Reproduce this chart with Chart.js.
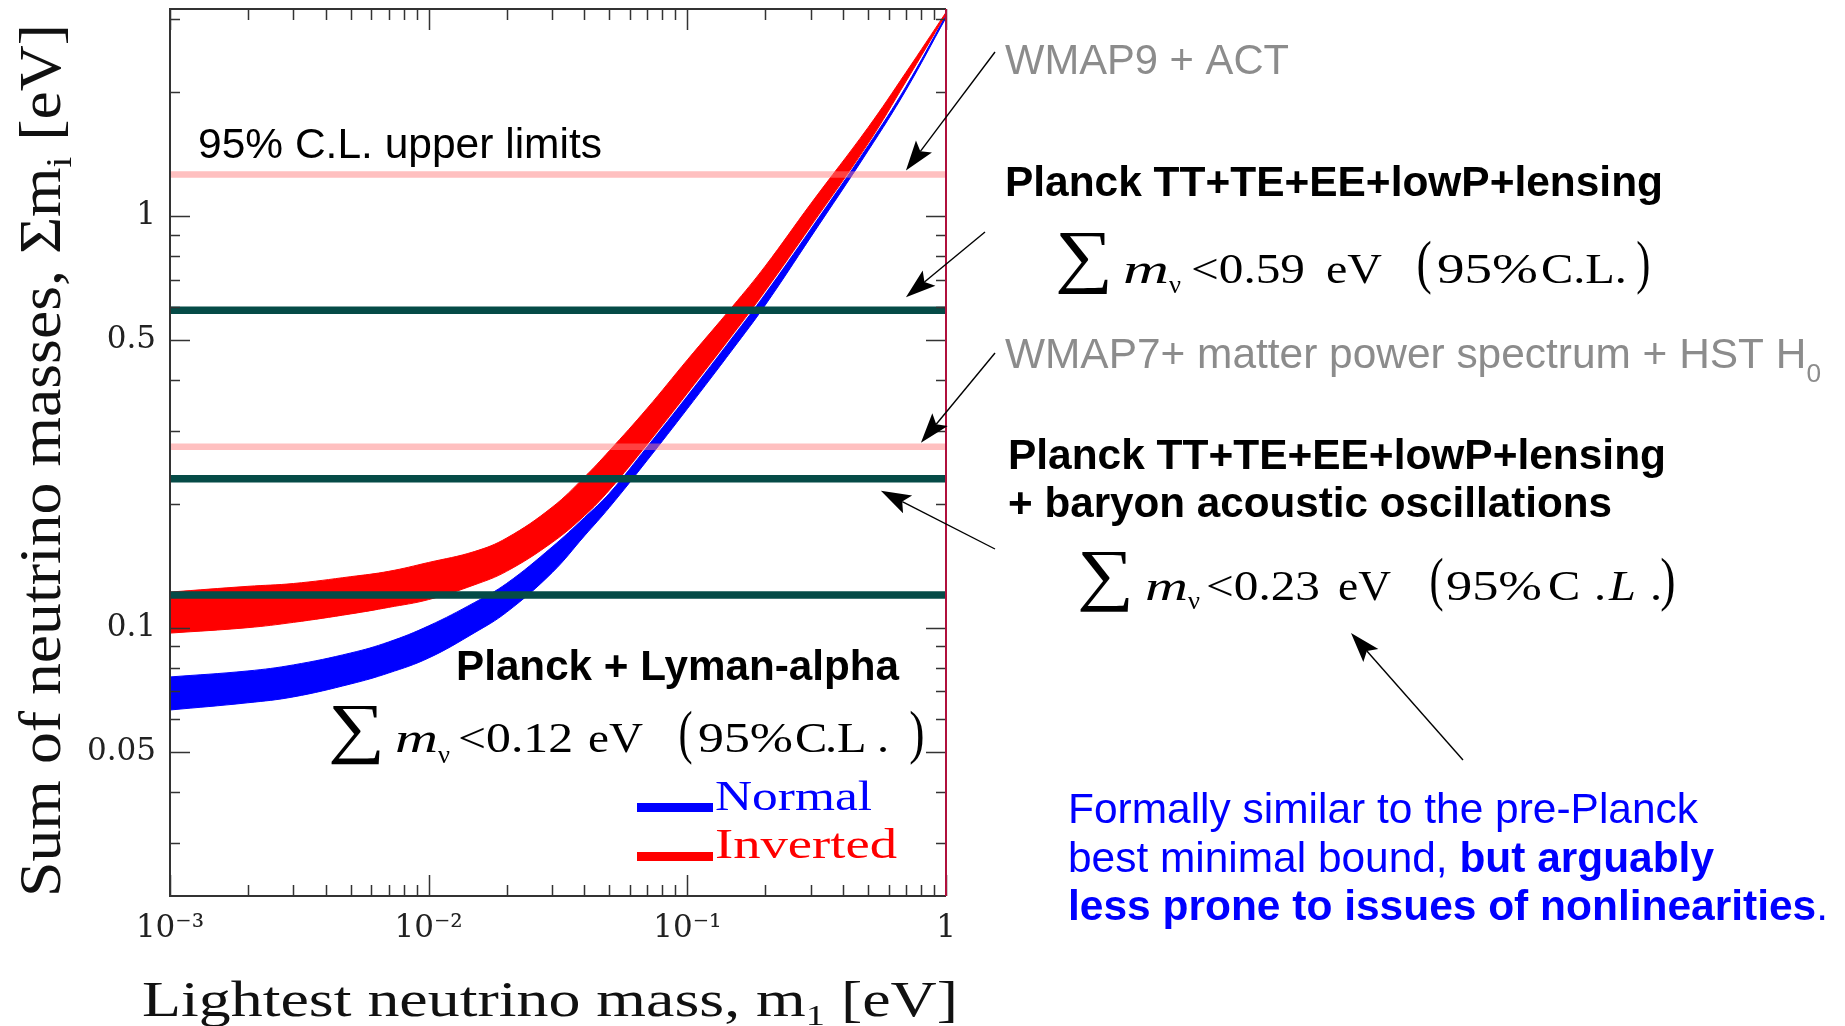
<!DOCTYPE html>
<html>
<head>
<meta charset="utf-8">
<title>Sum of neutrino masses vs lightest neutrino mass</title>
<script src="https://cdn.jsdelivr.net/npm/chart.js@4.4.1/dist/chart.umd.min.js"></script>
<style>
  html, body { margin: 0; padding: 0; background: #fff; }
  #wrap { width: 1845px; height: 1026px; position: relative; }
</style>
</head>
<body>
<div id="wrap"><canvas id="massChart" width="1845" height="1026"></canvas></div>
<script>
// lightest neutrino mass m1 [eV]
var m1 = [0.001, 0.002, 0.003, 0.005, 0.007, 0.01, 0.015, 0.02, 0.03, 0.04, 0.05, 0.07, 0.1, 0.15, 0.2, 0.3, 0.5, 0.7, 1.0];

// allowed band for the sum of masses [eV], inverted and normal ordering
var invertedUpper = [0.122, 0.126, 0.128, 0.133, 0.137, 0.144, 0.153, 0.165, 0.196, 0.232, 0.269, 0.341, 0.447, 0.604, 0.755, 1.07, 1.64, 2.23, 3.12];
var invertedLower = [0.097, 0.100, 0.103, 0.108, 0.112, 0.117, 0.127, 0.137, 0.161, 0.187, 0.216, 0.279, 0.371, 0.516, 0.657, 0.944, 1.50, 2.12, 3.09];
var normalUpper = [0.0759, 0.0785, 0.0812, 0.0868, 0.0923, 0.101, 0.115, 0.128, 0.157, 0.185, 0.212, 0.275, 0.365, 0.508, 0.646, 0.928, 1.48, 2.06, 3.07];
var normalLower = [0.0631, 0.0657, 0.0679, 0.0730, 0.0776, 0.0844, 0.0971, 0.109, 0.136, 0.167, 0.196, 0.255, 0.340, 0.475, 0.607, 0.888, 1.44, 2.02, 3.03];

// 95% C.L. upper limits on the sum [eV]
var limitNames = ['WMAP9 + ACT', 'Planck TT+TE+EE+lowP+lensing', 'WMAP7 + matter power spectrum + HST H0', 'Planck TT+TE+EE+lowP+lensing + BAO', 'Planck + Lyman-alpha'];
var limitValues = [1.26, 0.59, 0.275, 0.23, 0.12];
var limitKinds = ['old', 'planck', 'old', 'planck', 'planck'];

// axis ticks (empty label = minor tick)
var xTickValues = [0.001, 0.002, 0.003, 0.004, 0.005, 0.006, 0.007, 0.008, 0.009,
                   0.01, 0.02, 0.03, 0.04, 0.05, 0.06, 0.07, 0.08, 0.09,
                   0.1, 0.2, 0.3, 0.4, 0.5, 0.6, 0.7, 0.8, 0.9, 1];
var xTickLabels = ['10\u207b\u00b3', '', '', '', '', '', '', '', '',
                   '10\u207b\u00b2', '', '', '', '', '', '', '', '',
                   '10\u207b\u00b9', '', '', '', '', '', '', '', '', '1'];
var yTickValues = [0.03, 0.04, 0.05, 0.06, 0.07, 0.08, 0.09, 0.1, 0.2, 0.3, 0.4, 0.5, 0.6, 0.7, 0.8, 0.9, 1, 2, 3];
var yTickLabels = ['', '', '0.05', '', '', '', '', '0.1', '', '', '', '0.5', '', '', '', '', '1', '', ''];

var SANS = '"Liberation Sans", Arial, sans-serif';
var SERIF = '"Liberation Serif", "Times New Roman", serif';
var GREY = '#8c8c8c';
var BLUE = '#0000ff';

var limitStyle = {
    old: { color: 'rgba(255, 130, 130, 0.5)', width: 6.5 },
    planck: { color: '#054b47', width: 7.5 }
};

function pts(ys) {
    return m1.map(function (m, i) { return { x: m, y: ys[i] }; });
}

var bandLine = { borderWidth: 1, pointRadius: 0, tension: 0.4, clip: 0 };

var datasets = [];
limitValues.forEach(function (v, i) {
    var st = limitStyle[limitKinds[i]];
    datasets.push({
        label: limitNames[i],
        data: [{ x: m1[0], y: v }, { x: m1[m1.length - 1], y: v }],
        borderColor: st.color,
        borderWidth: st.width,
        borderCapStyle: 'butt',
        pointRadius: 0,
        fill: false,
        clip: 0
    });
});
// bands: index 5/6 inverted, 7/8 normal
datasets.push(Object.assign({ label: 'Inverted', data: pts(invertedLower), borderColor: '#ff0000', fill: false }, bandLine));
datasets.push(Object.assign({ label: 'Inverted upper', data: pts(invertedUpper), borderColor: '#ff0000', backgroundColor: '#ff0000', fill: 5 }, bandLine));
datasets.push(Object.assign({ label: 'Normal', data: pts(normalLower), borderColor: '#0000ff', fill: false }, bandLine));
datasets.push(Object.assign({ label: 'Normal upper', data: pts(normalUpper), borderColor: '#0000ff', backgroundColor: '#0000ff', fill: 7 }, bandLine));

// draw text pieces stretched to fit [x0, x1]
function fit(ctx, parts, x0, x1, base) {
    var total = 0;
    parts.forEach(function (p) { ctx.font = p[1]; total += ctx.measureText(p[0]).width; });
    var sx = (x1 - x0) / total, x = x0;
    parts.forEach(function (p) {
        ctx.font = p[1];
        ctx.fillStyle = p[2] || '#000';
        ctx.save();
        ctx.translate(x, base + (p[3] || 0));
        ctx.scale(sx, 1);
        ctx.fillText(p[0], 0, 0);
        ctx.restore();
        x += ctx.measureText(p[0]).width * sx;
    });
}

// draw one glyph scaled into a box
function box(ctx, text, font, x0, x1, top, bottom) {
    ctx.font = font;
    var m = ctx.measureText(text);
    var w = m.actualBoundingBoxLeft + m.actualBoundingBoxRight;
    var h = m.actualBoundingBoxAscent + m.actualBoundingBoxDescent;
    ctx.save();
    ctx.translate(x0, top);
    ctx.scale((x1 - x0) / w, (bottom - top) / h);
    ctx.fillStyle = '#000';
    ctx.fillText(text, m.actualBoundingBoxLeft, m.actualBoundingBoxAscent);
    ctx.restore();
}

function put(ctx, text, font, x, base, sx) {
    ctx.font = font;
    ctx.fillStyle = '#000';
    ctx.save();
    ctx.translate(x, base);
    ctx.scale(sx, 1);
    ctx.fillText(text, 0, 0);
    ctx.restore();
}

function formula(ctx, value, f) {
    var tf = '42px ' + SERIF, it = 'italic 42px ' + SERIF;
    box(ctx, '\u2211', '80px ' + SERIF, f.sig[0], f.sig[1], f.sig[2], f.sig[3]);
    fit(ctx, [['m', it]], f.m[0], f.m[1], f.base);
    fit(ctx, [['\u03bd', '26px ' + SERIF]], f.nu[0], f.nu[1], f.nu[2]);
    fit(ctx, [['<' + value.toFixed(2), tf]], f.val[0], f.val[1], f.base);
    fit(ctx, [['eV', tf]], f.ev[0], f.ev[1], f.base);
    box(ctx, '(', '60px ' + SERIF, f.lp[0], f.lp[1], f.lp[2], f.lp[3]);
    fit(ctx, [['95%', tf]], f.pct[0], f.pct[1], f.base);
    f.cl.forEach(function (c) { put(ctx, c[0], c[2] ? it : tf, c[1], f.base, 1.15); });
    box(ctx, ')', '60px ' + SERIF, f.rp[0], f.rp[1], f.rp[2], f.rp[3]);
}

function arrow(ctx, x0, y0, x1, y1, color) {
    var a = Math.atan2(y1 - y0, x1 - x0), c = Math.cos(a), s = Math.sin(a), L = 30, W = 10;
    ctx.strokeStyle = color;
    ctx.fillStyle = color;
    ctx.lineWidth = 1.4;
    ctx.beginPath();
    ctx.moveTo(x0, y0);
    ctx.lineTo(x1 - L * 0.8 * c, y1 - L * 0.8 * s);
    ctx.stroke();
    ctx.beginPath();
    ctx.moveTo(x1, y1);
    ctx.lineTo(x1 - L * c + W * s, y1 - L * s - W * c);
    ctx.lineTo(x1 - L * 0.8 * c, y1 - L * 0.8 * s);
    ctx.lineTo(x1 - L * c - W * s, y1 - L * s + W * c);
    ctx.closePath();
    ctx.fill();
}

// frame with inward ticks on all four sides
var frameTicks = {
    id: 'frameTicks',
    afterDatasetsDraw: function (chart) {
        var ctx = chart.ctx, a = chart.chartArea, xs = chart.scales.x, ys = chart.scales.y;
        ctx.save();
        ctx.lineWidth = 1.5;
        ctx.strokeStyle = '#333';
        ctx.beginPath();
        xTickValues.forEach(function (v, i) {
            var px = Math.round(xs.getPixelForValue(v)) + 0.5;
            var len = xTickLabels[i] ? 21 : 11;
            ctx.moveTo(px, a.bottom); ctx.lineTo(px, a.bottom - len);
            ctx.moveTo(px, a.top); ctx.lineTo(px, a.top + len);
        });
        yTickValues.forEach(function (v, i) {
            var py = Math.round(ys.getPixelForValue(v)) + 0.5;
            var len = yTickLabels[i] ? 20 : 10;
            ctx.moveTo(a.left, py); ctx.lineTo(a.left + len, py);
            ctx.moveTo(a.right, py); ctx.lineTo(a.right - len, py);
        });
        ctx.stroke();
        ctx.lineWidth = 2;
        ctx.strokeStyle = '#333';
        ctx.beginPath();
        ctx.moveTo(a.right, a.top); ctx.lineTo(a.left, a.top);
        ctx.lineTo(a.left, a.bottom); ctx.lineTo(a.right, a.bottom);
        ctx.stroke();
        ctx.strokeStyle = '#b0103c';
        ctx.beginPath();
        ctx.moveTo(a.right, a.top); ctx.lineTo(a.right, a.bottom);
        ctx.stroke();
        ctx.restore();
    }
};

// labels, arrows, legend and axis titles
var annotations = {
    id: 'annotations',
    afterDraw: function (chart) {
        var ctx = chart.ctx, xs = chart.scales.x, ys = chart.scales.y;
        var ds = chart.data.datasets;
        ctx.save();
        ctx.textBaseline = 'alphabetic';
        ctx.textAlign = 'left';

        fit(ctx, [['95% C.L. upper limits', '42px ' + SANS]], 198, 602, 158);
        fit(ctx, [['WMAP9 + ACT', '42px ' + SANS, GREY]], 1005, 1289, 74);
        fit(ctx, [['Planck TT+TE+EE+lowP+lensing', 'bold 42px ' + SANS]], 1005, 1663, 196);
        fit(ctx, [['WMAP7+ matter power spectrum + HST H', '42px ' + SANS, GREY], ['0', '26px ' + SANS, GREY, 14]], 1005, 1821, 368);
        fit(ctx, [['Planck TT+TE+EE+lowP+lensing', 'bold 42px ' + SANS]], 1008, 1666, 469);
        fit(ctx, [['+ baryon acoustic oscillations', 'bold 42px ' + SANS]], 1008, 1612, 517);
        fit(ctx, [['Planck + Lyman-alpha', 'bold 42px ' + SANS]], 456, 899, 680);

        fit(ctx, [['Formally similar to the pre-Planck', '42px ' + SANS, BLUE]], 1068, 1698, 823);
        fit(ctx, [['best minimal bound, ', '42px ' + SANS, BLUE], ['but arguably', 'bold 42px ' + SANS, BLUE]], 1068, 1714, 872);
        fit(ctx, [['less prone to issues of nonlinearities', 'bold 42px ' + SANS, BLUE], ['.', '42px ' + SANS, BLUE]], 1068, 1828, 920);

        formula(ctx, limitValues[1], {
            base: 283, sig: [1058, 1108, 233, 295], m: [1123, 1169], nu: [1169, 1181, 293],
            val: [1191, 1305], ev: [1326, 1382], lp: [1418, 1431, 240, 295], pct: [1437, 1538],
            cl: [['C.L.', 1541, false]], rp: [1637, 1649, 240, 295]
        });
        formula(ctx, limitValues[3], {
            base: 600, sig: [1080, 1129, 551, 612], m: [1145, 1188], nu: [1188, 1200, 609],
            val: [1206, 1320], ev: [1338, 1391], lp: [1431, 1443, 558, 612], pct: [1446, 1542],
            cl: [['C', 1548, false], ['.', 1594, false], ['L', 1609, true], ['.', 1650, false]], rp: [1661, 1674, 558, 612]
        });
        formula(ctx, limitValues[4], {
            base: 752, sig: [331, 380, 705, 765], m: [395, 438], nu: [438, 450, 763],
            val: [458, 573], ev: [588, 643], lp: [680, 692, 710, 765], pct: [698, 793],
            cl: [['C', 795, false], ['.', 825, false], ['L', 837, false], ['.', 877, false]], rp: [910, 923, 710, 765]
        });

        // arrows pointing at the limit lines
        arrow(ctx, 995, 52, xs.getPixelForValue(0.7), ys.getPixelForValue(limitValues[0]) - 4, '#000');
        arrow(ctx, 985, 232, xs.getPixelForValue(0.7), ys.getPixelForValue(limitValues[1]) - 13, '#000');
        arrow(ctx, 995, 353, xs.getPixelForValue(0.8), ys.getPixelForValue(limitValues[2]) - 4, '#000');
        arrow(ctx, 995, 549, xs.getPixelForValue(0.56), ys.getPixelForValue(limitValues[3]) + 12, '#000');
        arrow(ctx, 1463, 760, 1351, 633, '#000');

        // legend
        ctx.fillStyle = ds[7].borderColor;
        ctx.fillRect(637, 803, 76, 9);
        fit(ctx, [['Normal', '42px ' + SERIF, ds[7].borderColor]], 715, 872, 810);
        ctx.fillStyle = ds[5].borderColor;
        ctx.fillRect(637, 852, 76, 9);
        fit(ctx, [['Inverted', '42px ' + SERIF, ds[5].borderColor]], 715, 897, 858);

        // axis titles
        fit(ctx, [['Lightest neutrino mass, m', '50px ' + SERIF, '#111'], ['1', '30px ' + SERIF, '#111', 9], [' [eV]', '50px ' + SERIF, '#111']], 142, 958, 1016);
        ctx.save();
        ctx.translate(60, 897);
        ctx.rotate(-Math.PI / 2);
        ctx.scale(1, 1.2);
        fit(ctx, [['Sum of neutrino masses, \u03a3m', '50px ' + SERIF, '#111'], ['i', '30px ' + SERIF, '#111', 9], [' [eV]', '50px ' + SERIF, '#111']], 0, 873, 0);
        ctx.restore();

        ctx.restore();
    }
};

new Chart(document.getElementById('massChart'), {
    type: 'line',
    data: { datasets: datasets },
    options: {
        responsive: false,
        animation: false,
        devicePixelRatio: 1,
        layout: { padding: { left: 0, top: 9, right: 899, bottom: 0 } },
        plugins: { legend: { display: false }, tooltip: { enabled: false } },
        elements: { point: { radius: 0 } },
        scales: {
            x: {
                type: 'logarithmic',
                min: 0.001,
                max: 1,
                grid: { display: false, drawTicks: false },
                border: { display: false },
                afterBuildTicks: function (s) { s.ticks = xTickValues.map(function (v) { return { value: v }; }); },
                afterFit: function (s) { s.height = 130; s.paddingLeft = 0; s.paddingRight = 0; },
                ticks: {
                    autoSkip: false, maxRotation: 0, padding: 14, color: '#222',
                    font: { family: 'DejaVu Serif', size: 31 },
                    callback: function (v, i) { return xTickLabels[i]; }
                }
            },
            y: {
                type: 'logarithmic',
                min: 0.0223,
                max: 3.18,
                grid: { display: false, drawTicks: false },
                border: { display: false },
                afterBuildTicks: function (s) { s.ticks = yTickValues.map(function (v) { return { value: v }; }); },
                afterFit: function (s) { s.width = 170; s.paddingTop = 0; s.paddingBottom = 0; },
                ticks: {
                    autoSkip: false, padding: 14, color: '#222',
                    font: { family: 'DejaVu Serif', size: 31 },
                    callback: function (v, i) { return yTickLabels[i]; }
                }
            }
        }
    },
    plugins: [frameTicks, annotations]
});
</script>
</body>
</html>
